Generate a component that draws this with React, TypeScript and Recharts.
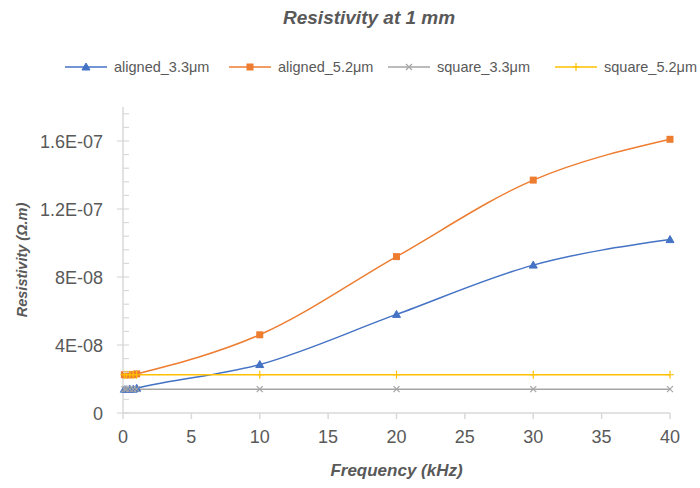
import { LineChart, Line, XAxis, YAxis, Label } from 'recharts';

const freq = [0.1, 0.25, 0.5, 0.75, 1, 10, 20, 30, 40];
const aligned33 = [1.4e-8, 1.4e-8, 1.4e-8, 1.4e-8, 1.45e-8, 2.85e-8, 5.8e-8, 8.7e-8, 1.02e-7];
const aligned52 = [2.25e-8, 2.25e-8, 2.25e-8, 2.25e-8, 2.3e-8, 4.6e-8, 9.2e-8, 1.37e-7, 1.61e-7];
const square33 = [1.4e-8, 1.4e-8, 1.4e-8, 1.4e-8, 1.4e-8, 1.4e-8, 1.4e-8, 1.4e-8, 1.4e-8];
const square52 = [2.25e-8, 2.25e-8, 2.25e-8, 2.25e-8, 2.25e-8, 2.25e-8, 2.25e-8, 2.25e-8, 2.25e-8];

const xTicks = [0, 5, 10, 15, 20, 25, 30, 35, 40];
const yMajorTicks = [0, 4e-8, 8e-8, 1.2e-7, 1.6e-7];
const yTickLabels = ['0', '4E-08', '8E-08', '1.2E-07', '1.6E-07'];
const yMinorTicks = [
  0, 8e-9, 1.6e-8, 2.4e-8, 3.2e-8, 4e-8, 4.8e-8, 5.6e-8, 6.4e-8, 7.2e-8, 8e-8,
  8.8e-8, 9.6e-8, 1.04e-7, 1.12e-7, 1.2e-7, 1.28e-7, 1.36e-7, 1.44e-7, 1.52e-7, 1.6e-7,
  1.68e-7, 1.76e-7,
];

const series = [
  { key: 'aligned33', name: 'aligned_3.3μm', color: '#4472C4', shape: 'triangle' },
  { key: 'aligned52', name: 'aligned_5.2μm', color: '#ED7D31', shape: 'square' },
  { key: 'square33', name: 'square_3.3μm', color: '#A5A5A5', shape: 'x' },
  { key: 'square52', name: 'square_5.2μm', color: '#FFC000', shape: 'plus' },
];

const data = freq.map((f, i) => ({
  f,
  aligned33: aligned33[i],
  aligned52: aligned52[i],
  square33: square33[i],
  square52: square52[i],
}));

const font = '"Liberation Sans", Arial, sans-serif';
const axisColor = '#D9D9D9';
const textColor = '#595959';

function Marker({ cx, cy, shape, color }: any) {
  if (cx == null || cy == null) return null;
  if (shape === 'triangle')
    return <path d={`M${cx},${cy - 4} L${cx + 4},${cy + 3} L${cx - 4},${cy + 3} Z`} fill={color} stroke={color} />;
  if (shape === 'square') return <rect x={cx - 3.5} y={cy - 3.5} width={7} height={7} fill={color} />;
  if (shape === 'x')
    return <path d={`M${cx - 3},${cy - 3} L${cx + 3},${cy + 3} M${cx - 3},${cy + 3} L${cx + 3},${cy - 3}`} stroke={color} strokeWidth={1.2} />;
  return <path d={`M${cx - 4},${cy} L${cx + 4},${cy} M${cx},${cy - 4} L${cx},${cy + 4}`} stroke={color} strokeWidth={1.2} />;
}

function YTick({ x, y, payload }: any) {
  const idx = yMajorTicks.findIndex((v) => Math.abs(v - payload.value) < 1e-12);
  if (idx < 0) return <line x1={x} x2={x + 6} y1={y} y2={y} stroke={axisColor} strokeWidth={1.2} />;
  return (
    <g>
      <line x1={x - 6} x2={x + 6} y1={y} y2={y} stroke={axisColor} strokeWidth={1.2} />
      <text x={x - 20} y={y + 6.5} textAnchor="end" fill={textColor} fontSize={18} fontFamily={font}>
        {yTickLabels[idx]}
      </text>
    </g>
  );
}

export default function App() {
  return (
    <div style={{ position: 'absolute', left: 0, top: 0, width: 700, height: 488, background: '#fff', fontFamily: font }}>
      <div style={{ position: 'absolute', top: 7, left: 283, whiteSpace: 'nowrap', fontSize: 19, fontWeight: 'bold', fontStyle: 'italic', color: textColor }}>
        Resistivity at 1 mm
      </div>
      <div style={{ position: 'absolute', top: 56, left: 0, width: 700, height: 22 }}>
        {series.map((s, i) => (
          <div key={s.key} style={{ position: 'absolute', left: [65, 229, 388, 555][i], top: 0, display: 'flex', alignItems: 'center', height: 22, whiteSpace: 'nowrap' }}>
            <svg width={42} height={12}>
              <line x1={0} x2={42} y1={6} y2={6} stroke={s.color} strokeWidth={1.5} />
              <Marker cx={21} cy={6} shape={s.shape} color={s.color} />
            </svg>
            <span style={{ marginLeft: 7, fontSize: 14.5, color: textColor }}>{s.name}</span>
          </div>
        ))}
      </div>
      <LineChart width={700} height={488} data={data} margin={{ top: 107, right: 30, bottom: 0, left: 60 }}>
        <XAxis
          dataKey="f"
          type="number"
          domain={[0, 40]}
          ticks={xTicks}
          stroke={axisColor}
          strokeWidth={1.5}
          tickSize={6}
          tickMargin={11}
          tick={{ fill: textColor, fontSize: 18, fontFamily: font }}
          height={75}
        >
          <Label
            value="Frequency (kHz)"
            position="insideBottom"
            offset={12}
            style={{ fill: textColor, fontSize: 17, fontWeight: 'bold', fontStyle: 'italic', fontFamily: font }}
          />
        </XAxis>
        <YAxis
          type="number"
          domain={[0, 1.8e-7]}
          ticks={yMinorTicks}
          interval={0}
          width={63}
          stroke={axisColor}
          strokeWidth={1.5}
          tickLine={false}
          tickSize={0}
          tickMargin={0}
          tick={<YTick />}
        >
          <Label
            value="Resistivity (Ω.m)"
            angle={-90}
            position="insideLeft"
            offset={-38}
            style={{ textAnchor: 'middle', fill: textColor, fontSize: 14.5, fontWeight: 'bold', fontStyle: 'italic', fontFamily: font }}
          />
        </YAxis>
        {series.map((s) => (
          <Line
            key={s.key}
            dataKey={s.key}
            name={s.name}
            type="monotone"
            stroke={s.color}
            strokeWidth={1.5}
            dot={(p: any) => <Marker key={`${s.key}-${p.index}`} cx={p.cx} cy={p.cy} shape={s.shape} color={s.color} />}
            activeDot={false}
            isAnimationActive={false}
          />
        ))}
      </LineChart>
    </div>
  );
}
